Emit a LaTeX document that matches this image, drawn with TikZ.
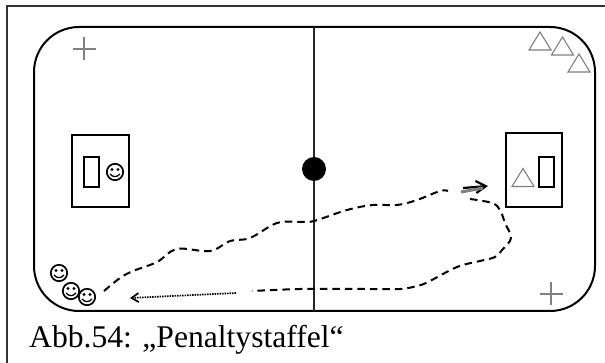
\documentclass[tikz,border=0pt]{standalone}
\usepackage{fontspec}
\setmainfont{Liberation Serif}
\usetikzlibrary{arrows.meta}
\tikzset{
  fieldline/.style={line width=2pt},
  goalbox/.style={line width=1.6pt},
  markgray/.style={line width=1.1pt, black!50},
  runpath/.style={line width=2pt, dash pattern=on 7.5pt off 5pt},
}
\newcommand{\smiley}[2]{%
  \draw[line width=1.7pt] (#1,#2) circle (8.2);
  \fill (#1-3,#2-2.5) circle (1.6);
  \fill (#1+3,#2-2.5) circle (1.6);
  \draw[line width=1.3pt] (#1-5,#2+2) .. controls (#1-2,#2+5.5) and (#1+2,#2+5.5) .. (#1+5,#2+2);
}
\newcommand{\conemark}[2]{%
  \draw[markgray] (#1-11,#2+9) -- (#1,#2-9) -- (#1+11,#2+9) -- cycle;
}
\newcommand{\crossmark}[2]{%
  \draw[markgray] (#1-11.5,#2) -- (#1+11.5,#2);
  \draw[markgray] (#1,#2-11.5) -- (#1,#2+11.5);
}
\begin{document}
\begin{tikzpicture}[x=1pt,y=-1pt]
\useasboundingbox (0,0) rectangle (605,363);
\draw[line width=2pt, black!80] (7,363) -- (7,6) -- (605,6);
% playing field
\draw[fieldline, rounded corners=45] (34,27) rectangle (595,311);
\draw[line width=1.9pt, black!85] (314,27) -- (314,311);
\node[circle, fill=black, minimum size=24, inner sep=0pt] (spot) at (314,169) {};
% left goal
\draw[goalbox] (72,135) rectangle (129,207);
\draw[goalbox] (84,157) rectangle (99,187);
\smiley{115}{172}
\crossmark{84}{49}
% right goal
\draw[goalbox] (506,133) rectangle (562,207);
\draw[goalbox] (539,157) rectangle (554,187);
\conemark{523}{177.5}
\crossmark{551}{294}
% cones top right
\conemark{540}{41}
\conemark{562.5}{46}
\conemark{579}{63}
% players
\smiley{59}{273}
\smiley{71}{291}
\smiley{87}{297}
% run
\draw[runpath] plot[smooth, tension=0.6] coordinates {(104,291) (120,278) (133,271) (157,262) (177,249) (210,251) (230,241) (250,238) (277,223) (300,222) (314,221) (347,210) (373,205) (397,205) (417,200) (440,191) (448,191)};
\draw[line width=2.2pt, -{Straight Barb[length=10pt,width=12pt]}] (463,188) -- (488,186);
\draw[line width=3pt, black!50] (461,192) -- (483,188);
\draw[runpath] plot[smooth, tension=0.6] coordinates {(470,199) (492,203) (500,210) (505,223) (511,238) (502,250) (495,257) (480,261) (457,267) (428,282) (417,286) (400,289) (370,289) (340,289) (300,289) (252,291)};
\draw[line width=1.7pt, dash pattern=on 1.5pt off 1pt, -{Straight Barb[length=7pt,width=9pt]}] (236,293) -- (130,298);
\node[anchor=base west, inner sep=0pt, font=\fontsize{31.6}{36}\selectfont] (title) at (29,348) {Abb.54: „Penaltystaffel“};
\end{tikzpicture}
\end{document}
